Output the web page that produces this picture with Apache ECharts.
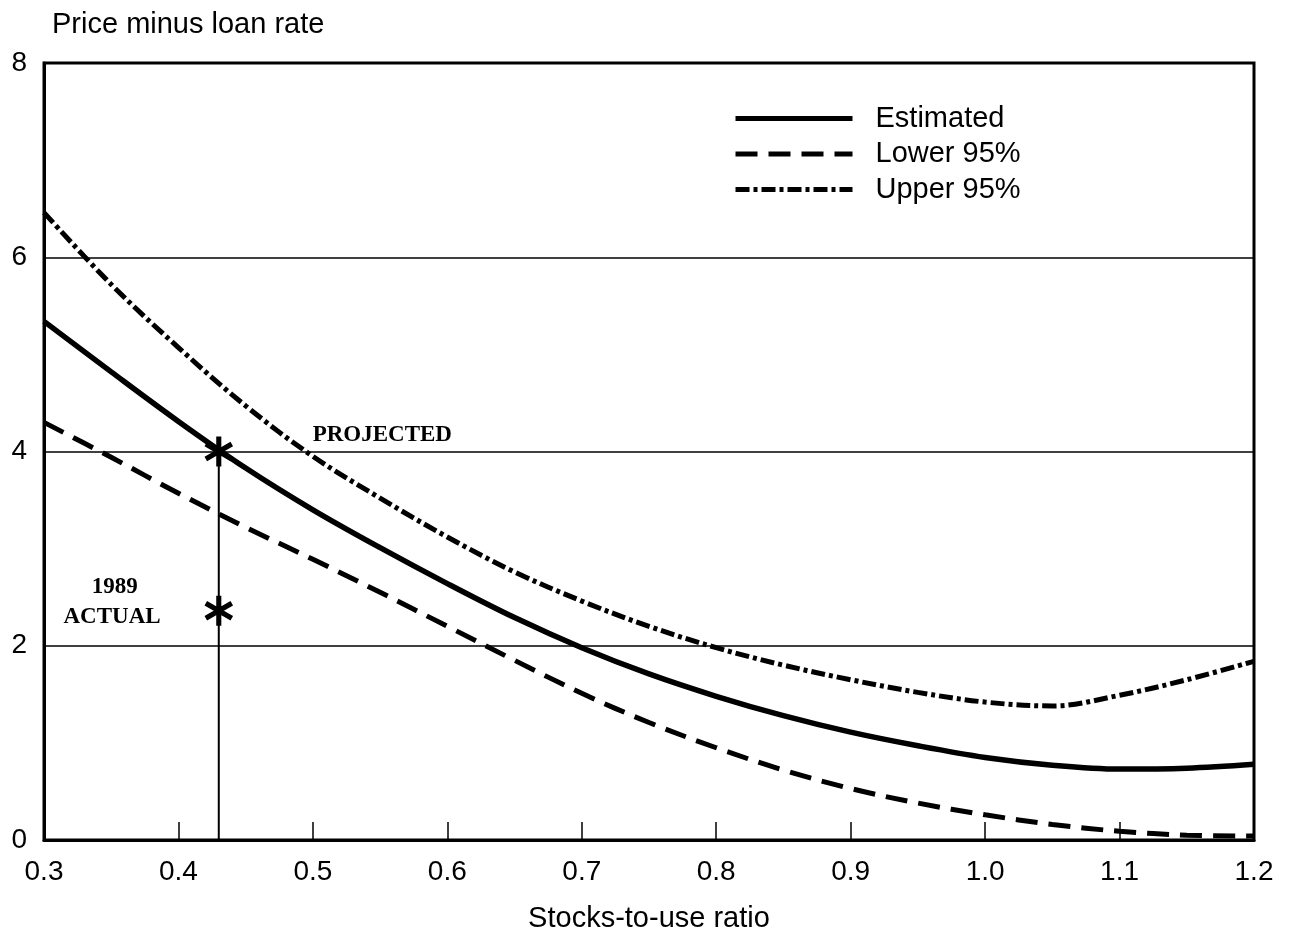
<!DOCTYPE html>
<html>
<head>
<meta charset="utf-8">
<script src="https://cdn.jsdelivr.net/npm/echarts@6/dist/echarts.min.js"></script>
<style>
html,body{margin:0;padding:0;background:#fff;}
#chart{width:1296px;height:938px;}
</style>
</head>
<body>
<div id="chart"></div>
<script>
// ---- data ----
var xValues   = [0.30,0.35,0.40,0.45,0.50,0.55,0.60,0.65,0.70,0.75,0.80,0.85,0.90,0.95,1.00,1.05,1.10,1.15,1.20];
var estimated = [5.34,4.82,4.31,3.83,3.40,3.01,2.64,2.29,1.98,1.71,1.48,1.28,1.11,0.97,0.85,0.77,0.73,0.74,0.78];
var lower95   = [4.30,3.94,3.57,3.22,2.89,2.55,2.20,1.85,1.51,1.21,0.95,0.72,0.53,0.38,0.26,0.16,0.09,0.05,0.04];
var upper95   = [6.46,5.72,5.07,4.47,3.95,3.52,3.12,2.76,2.46,2.20,1.98,1.80,1.65,1.52,1.42,1.38,1.49,1.65,1.84];
var markerX   = [0.43, 0.43];
var markerY   = [4.00, 2.36];
var annotationLabels = ['PROJECTED', '1989', 'ACTUAL'];
var annotationX      = [0.552, 0.353, 0.351];
var annotationY      = [4.16, 2.60, 2.29];
var xTicks = [0.3,0.4,0.5,0.6,0.7,0.8,0.9,1.0,1.1,1.2];
var yTicks = [0,2,4,6,8];

function zip(xs, ys){ return xs.map(function(x,i){ return [x, ys[i]]; }); }

function asteriskPath(){
  var parts = [];
  [90, 30, 150].forEach(function(a){
    var r = a*Math.PI/180, c = Math.cos(r), s = Math.sin(r);
    var L = 10, W = 1.7;
    var pts = [[-L,-W],[L,-W],[L,W],[-L,W]].map(function(p){
      return [(p[0]*c - p[1]*s).toFixed(3), (p[0]*s + p[1]*c).toFixed(3)];
    });
    parts.push('M' + pts.map(function(p){return p[0]+' '+p[1];}).join(' L') + ' Z');
  });
  return 'path://' + parts.join(' ');
}

var chart = echarts.init(document.getElementById('chart'), null, {renderer:'canvas'});
var sans = 'Liberation Sans, Arial, sans-serif';
var option = {
  animation: false,
  backgroundColor: '#fff',
  title: {
    text: 'Price minus loan rate',
    left: 47, top: 5,
    textStyle: {fontFamily: sans, fontSize: 29, fontWeight: 'normal', color: '#000'}
  },
  legend: {
    orient: 'vertical',
    left: 733, top: 104,
    itemWidth: 117, itemHeight: 14, itemGap: 6.5,
    padding: 0,
    data: ['Estimated', 'Lower 95%', 'Upper 95%'],
    itemStyle: {opacity: 0},
    lineStyle: {width: 5},
    textStyle: {fontFamily: sans, fontSize: 29, color: '#000', padding: [0,0,0,18]}
  },
  grid: {
    left: 44, right: 42, top: 63, bottom: 95,
    show: true, borderColor: '#000', borderWidth: 3, backgroundColor: 'transparent'
  },
  xAxis: {
    type: 'value', min: 0.3, max: 1.2, interval: 0.1,
    name: 'Stocks-to-use ratio', nameLocation: 'middle', nameGap: 64,
    nameTextStyle: {fontFamily: sans, fontSize: 29, color: '#000'},
    axisLine: {show: true, lineStyle: {color: '#000', width: 3}},
    axisTick: {show: true, inside: true, length: 18, lineStyle: {color: '#000', width: 1.5}},
    splitLine: {show: false},
    axisLabel: {
      margin: 18, fontFamily: sans, fontSize: 28, color: '#000',
      formatter: function(v){ return (Math.round(v*10)/10).toFixed(1); }
    }
  },
  yAxis: {
    type: 'value', min: 0, max: 8, interval: 2,
    axisLine: {show: true, lineStyle: {color: '#000', width: 3}},
    axisTick: {show: false},
    splitLine: {show: true, lineStyle: {color: '#000', width: 1.5}},
    axisLabel: {margin: 17, fontFamily: sans, fontSize: 28, color: '#000'}
  },
  series: [
    {
      name: 'Estimated', type: 'line', smooth: 0.35, symbol: 'none',
      data: zip(xValues, estimated),
      lineStyle: {color: '#000', width: 5.5, type: 'solid'},
      itemStyle: {color: '#000'}, z: 5
    },
    {
      name: 'Lower 95%', type: 'line', smooth: 0.35, symbol: 'none',
      data: zip(xValues, lower95),
      lineStyle: {color: '#000', width: 5, type: [22, 11]},
      itemStyle: {color: '#000'}, z: 5
    },
    {
      name: 'Upper 95%', type: 'line', smooth: 0.35, symbol: 'none',
      data: zip(xValues, upper95),
      lineStyle: {color: '#000', width: 5, type: [14, 4, 4, 4]},
      itemStyle: {color: '#000'}, z: 5
    },
    {
      name: 'guide', type: 'line', symbol: 'none', silent: true,
      data: [[markerX[0], 0], [markerX[0], markerY[0]]],
      lineStyle: {color: '#000', width: 2}, z: 4
    },
    {
      name: 'markers', type: 'scatter', silent: true,
      symbol: asteriskPath(), symbolSize: 30, symbolKeepAspect: true,
      data: zip(markerX, markerY),
      itemStyle: {color: '#000', opacity: 1}, z: 6
    },
    {
      name: 'annotations', type: 'scatter', silent: true, symbolSize: 1,
      itemStyle: {opacity: 0},
      data: annotationLabels.map(function(t,i){ return {name: t, value: [annotationX[i], annotationY[i]]}; }),
      label: {
        show: true, position: [0, 0], align: 'center', verticalAlign: 'middle', formatter: '{b}',
        fontFamily: 'Liberation Serif, Times New Roman, serif', fontWeight: 'bold',
        fontSize: 23, color: '#000', opacity: 1, textBorderWidth: 0
      },
      z: 7
    }
  ]
};
chart.setOption(option);
</script>
</body>
</html>
